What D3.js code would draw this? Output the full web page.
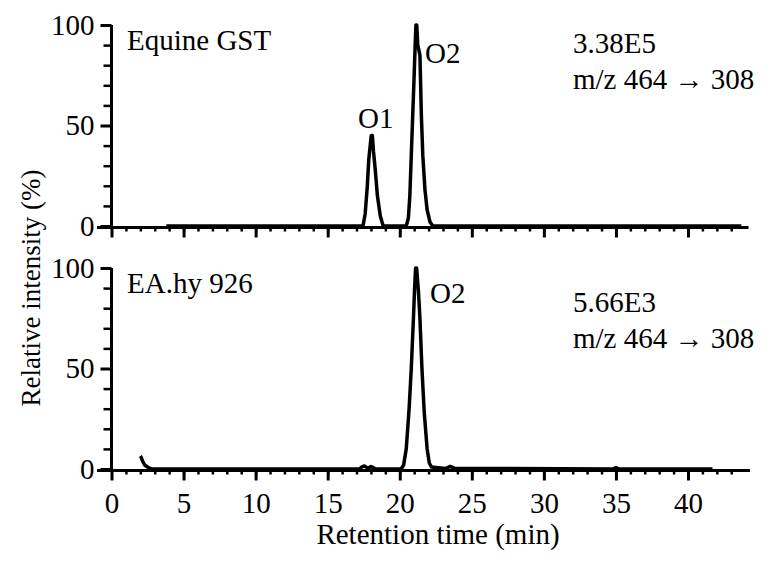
<!DOCTYPE html>
<html>
<head>
<meta charset="utf-8">
<script src="https://cdn.jsdelivr.net/npm/d3@7"></script>
<style>
  body { margin: 0; background: #fff; }
</style>
</head>
<body>
<section></section>
<script>
const w = 767;
const h = 561;
const font = "'Liberation Serif', Tinos, 'Times New Roman', Times, 'DejaVu Serif', serif";

// top panel: Equine GST
const gstTime   = [3.8, 17.45, 17.6, 17.75, 17.85, 17.95, 18.02, 18.1, 18.18, 18.3, 18.45, 18.65, 18.85,
                   20.45, 20.6, 20.7, 20.8, 20.9, 21.0, 21.07, 21.12, 21.18, 21.25, 21.4, 21.5, 21.6, 21.75, 21.9, 22.1, 22.3, 43.7];
const gstValues = [0, 0, 6, 20, 33, 40, 45, 45, 37, 28, 15, 5, 0,
                   0, 4, 15, 35, 55, 75, 90, 100, 100, 90, 85, 55, 35, 18, 8, 2, 0, 0];

// bottom panel: EA.hy 926
const eaTime   = [2.0, 2.05, 2.15, 2.3, 2.5, 2.8, 17.2, 17.4, 17.55, 17.7, 17.85, 18.0, 18.15, 18.3,
                  20.1, 20.27, 20.45, 20.65, 20.8, 20.95, 21.03, 21.1, 21.17, 21.3, 21.4, 21.54, 21.7, 21.9, 22.05, 22.2, 22.5,
                  23.2, 23.5, 23.8, 34.8, 35.0, 35.2, 41.7];
const eaValues = [6.5, 6, 4, 2, 1, 0, 0, 1.2, 1.5, 0.8, 0.5, 1.2, 0.8, 0,
                  0, 2, 10, 30, 50, 75, 90, 100, 100, 88, 75, 50, 28, 10, 3, 1, 0.8,
                  0.3, 1.3, 0.3, 0, 0.7, 0, 0];

const xMajor = [0, 5, 10, 15, 20, 25, 30, 35, 40];
const yMajor = [0, 50, 100];

const panels = [
  { time: gstTime, values: gstValues, top: 25, bottom: 226, name: "Equine GST", peaks: [["O1", 17.1, 49], ["O2", 21.75, 81]],
    scale: "3.38E5", mz: "m/z 464 \u2192 308", nameY: 50, infoY: 53, extent: [-1, 44.2] },
  { time: eaTime, values: eaValues, top: 268, bottom: 469, name: "EA.hy 926", peaks: [["O2", 22.1, 82.5]],
    scale: "5.66E3", mz: "m/z 464 \u2192 308", nameY: 293, infoY: 312, extent: [-1, 44.3] }
];

const x = d3.scaleLinear().domain([0, 40]).range([111.5, 688]);

const svg = d3.select("section")
  .append("svg")
  .attr("width", w)
  .attr("height", h)
  .style("font-family", font);

svg.append("rect").attr("width", w).attr("height", h).attr("fill", "#fff");

panels.forEach(function(p, i) {
  const y = d3.scaleLinear().domain([0, 100]).range([p.bottom, p.top]);
  const g = svg.append("g");

  // x axis line
  g.append("line")
    .attr("x1", x(p.extent[0])).attr("x2", x(p.extent[1]))
    .attr("y1", y(0) + 1.5).attr("y2", y(0) + 1.5)
    .attr("stroke", "#000").attr("stroke-width", 3);

  // minor x ticks
  g.append("g")
    .attr("transform", "translate(0," + (y(0) + 1.5) + ")")
    .call(d3.axisBottom(x).tickValues(d3.range(1, 44)).tickSize(4).tickFormat(""))
    .call(s => s.select(".domain").remove())
    .call(s => s.selectAll(".tick line").attr("stroke-width", 2.5));

  // major x ticks
  const xax = g.append("g")
    .attr("transform", "translate(0," + (y(0) + 1.5) + ")")
    .call(d3.axisBottom(x).tickValues(xMajor).tickSize(10).tickPadding(12))
    .call(s => s.select(".domain").remove())
    .call(s => s.selectAll(".tick line").attr("stroke-width", 3));
  xax.attr("font-family", null);
  if (i == 0) xax.selectAll(".tick text").remove();
  else xax.selectAll(".tick text").attr("font-size", 29).style("font-family", font);

  // y axis
  g.append("line")
    .attr("x1", x(0)).attr("x2", x(0))
    .attr("y1", y(100)).attr("y2", y(0) + 1.5)
    .attr("stroke", "#000").attr("stroke-width", 3);

  g.append("g")
    .attr("transform", "translate(" + x(0) + ",0)")
    .call(d3.axisLeft(y).tickValues(d3.range(10, 100, 10).filter(v => v != 50)).tickSize(8).tickFormat(""))
    .call(s => s.select(".domain").remove())
    .call(s => s.selectAll(".tick line").attr("stroke-width", 2.5));

  g.append("g")
    .attr("transform", "translate(" + x(0) + ",0)")
    .call(d3.axisLeft(y).tickValues(yMajor).tickSize(11).tickPadding(6))
    .attr("font-family", null)
    .call(s => s.select(".domain").remove())
    .call(s => s.selectAll(".tick line").attr("stroke-width", 3))
    .call(s => s.selectAll(".tick text").attr("font-size", 29).style("font-family", font));

  // trace
  const pts = p.time.map((t, j) => [t, p.values[j]]);
  g.append("path")
    .datum(pts)
    .attr("fill", "none")
    .attr("stroke", "#000")
    .attr("stroke-width", 3.5)
    .attr("stroke-linejoin", "round")
    .attr("d", d3.line().x(d => x(d[0])).y(d => y(d[1])));

  // labels
  g.append("text").attr("x", 127).attr("y", p.nameY).attr("font-size", 29).text(p.name);
  p.peaks.forEach(function(pk) {
    g.append("text").attr("x", x(pk[1])).attr("y", y(pk[2])).attr("font-size", 29).text(pk[0]);
  });
  g.append("text").attr("x", 573).attr("y", p.infoY).attr("font-size", 29).text(p.scale);
  g.append("text").attr("x", 573).attr("y", p.infoY + 36).attr("font-size", 29).text(p.mz);
});

svg.append("text")
  .attr("x", 438).attr("y", 544)
  .attr("text-anchor", "middle")
  .attr("font-size", 29)
  .text("Retention time (min)");

svg.append("text")
  .attr("transform", "translate(40,288) rotate(-90)")
  .attr("text-anchor", "middle")
  .attr("font-size", 27)
  .text("Relative intensity (%)");
</script>
</body>
</html>
